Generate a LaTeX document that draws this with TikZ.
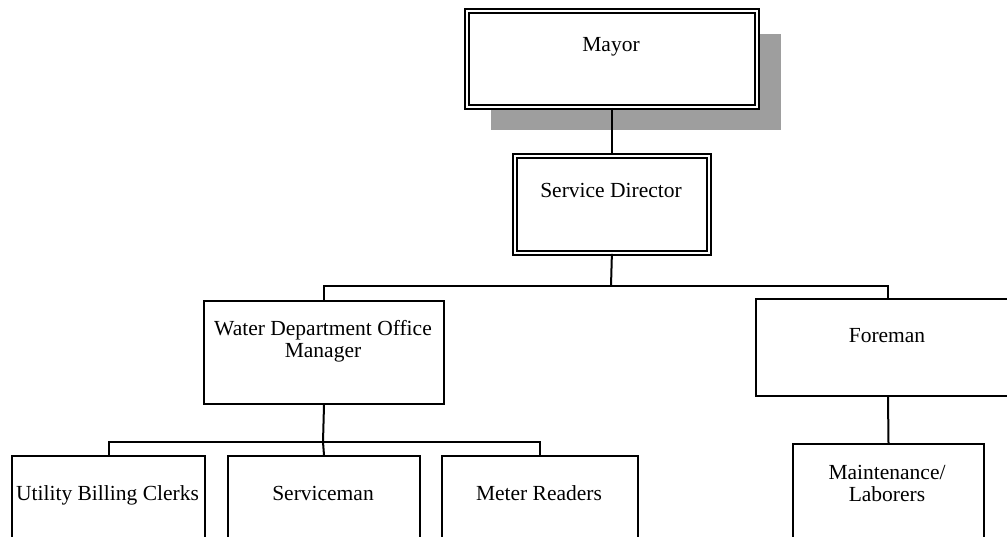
\documentclass[tikz,border=0pt]{standalone}
\usepackage{fontspec}
\setmainfont{Liberation Serif}
\usetikzlibrary{shadows}
\begin{document}
\begin{tikzpicture}[x=1pt,y=-1pt,
  box/.style={draw, line width=2pt, fill=white, anchor=north west, inner sep=0pt},
  dbox/.style={box, double=white, line width=1.8pt, double distance=2pt},
  conn/.style={line width=2pt},
  lbl/.style={font=\fontsize{21.5}{22}\selectfont, align=center, inner sep=0pt, anchor=base}]
\clip (0,0) rectangle (1007,536);
% top level with shadow
\node[dbox, minimum width=290pt, minimum height=96pt,
      drop shadow={shadow xshift=24pt, shadow yshift=-23pt, fill=black!38, opacity=1}]
      (mayor) at (466,10) {};
\node[dbox, minimum width=194pt, minimum height=97pt] (sd) at (514,155) {};
% second level
\node[box, minimum width=240pt, minimum height=103pt] (water) at (203,300) {};
\node[box, minimum width=264pt, minimum height=97pt] (foreman) at (755,298) {};
% third level (runs past the lower edge)
\node[box, minimum width=193pt, minimum height=110pt] (billing) at (11,455) {};
\node[box, minimum width=192pt, minimum height=110pt] (service) at (227,455) {};
\node[box, minimum width=196pt, minimum height=110pt] (meter) at (441,455) {};
\node[box, minimum width=191pt, minimum height=110pt] (maint) at (792,443) {};
% labels (base anchor sits on the last line)
\node[lbl] (tmayor) at (611,51) {Mayor};
\node[lbl] (tsd) at (611,197) {Service Director};
\node[lbl] (twater) at (323,357) {Water Department Office\\Manager};
\node[lbl] (tforeman) at (887,342) {Foreman};
\node[lbl] (tbilling) at (107.5,500) {Utility Billing Clerks};
\node[lbl] (tservice) at (323,500) {Serviceman};
\node[lbl] (tmeter) at (539,500) {Meter Readers};
\node[lbl] (tmaint) at (887,501) {Maintenance/\\Laborers};
% connectors
\coordinate (bus1) at (611,286);
\coordinate (bus2) at (323,442);
\draw[conn] (mayor.south) -- (sd.north);
\draw[conn] (sd.south) -- (bus1);
\draw[conn] (water.north) |- (bus1) -| (foreman.north);
\draw[conn] (water.south) -- (bus2);
\draw[conn] (billing.north) |- (bus2) -| (meter.north);
\draw[conn] (bus2) -- (service.north);
\draw[conn] (foreman.south) -- (maint.north);
\end{tikzpicture}
\end{document}
